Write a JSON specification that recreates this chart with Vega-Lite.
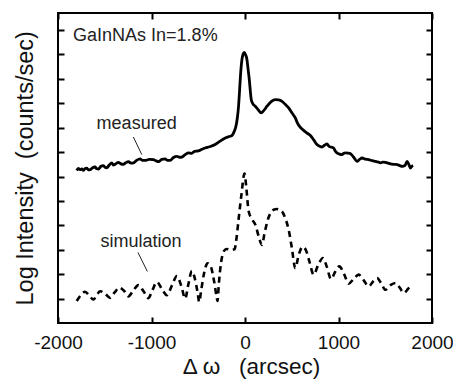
{
  "$schema": "https://vega.github.io/schema/vega-lite/v6.json",
  "width": 374,
  "height": 310,
  "autosize": {"type": "none"},
  "padding": {"left": 58, "top": 13, "right": 21, "bottom": 56},
  "background": "white",
  "config": {
    "view": {"stroke": "black", "strokeWidth": 2},
    "font": "Liberation Sans"
  },
  "datasets": {
    "measured": [
      {"w": -1800, "v": 6.25}, {"w": -1782, "v": 6.33}, {"w": -1764, "v": 6.28}, {"w": -1746, "v": 6.31},
      {"w": -1729, "v": 6.25}, {"w": -1711, "v": 6.33}, {"w": -1693, "v": 6.34}, {"w": -1675, "v": 6.27},
      {"w": -1657, "v": 6.28}, {"w": -1630, "v": 6.36}, {"w": -1604, "v": 6.39}, {"w": -1586, "v": 6.32},
      {"w": -1568, "v": 6.31}, {"w": -1540, "v": 6.42}, {"w": -1515, "v": 6.45}, {"w": -1497, "v": 6.38},
      {"w": -1479, "v": 6.36}, {"w": -1450, "v": 6.48}, {"w": -1425, "v": 6.56}, {"w": -1408, "v": 6.47},
      {"w": -1390, "v": 6.5}, {"w": -1372, "v": 6.55}, {"w": -1354, "v": 6.58}, {"w": -1328, "v": 6.52},
      {"w": -1301, "v": 6.5}, {"w": -1274, "v": 6.57}, {"w": -1247, "v": 6.61}, {"w": -1220, "v": 6.55},
      {"w": -1193, "v": 6.56}, {"w": -1160, "v": 6.66}, {"w": -1122, "v": 6.72}, {"w": -1095, "v": 6.66},
      {"w": -1068, "v": 6.66}, {"w": -1025, "v": 6.7}, {"w": -979, "v": 6.69}, {"w": -950, "v": 6.64},
      {"w": -925, "v": 6.61}, {"w": -890, "v": 6.7}, {"w": -854, "v": 6.72}, {"w": -827, "v": 6.66},
      {"w": -800, "v": 6.66}, {"w": -765, "v": 6.78}, {"w": -729, "v": 6.83}, {"w": -700, "v": 6.79},
      {"w": -675, "v": 6.8}, {"w": -640, "v": 6.9}, {"w": -604, "v": 6.97}, {"w": -570, "v": 6.95},
      {"w": -540, "v": 7.03}, {"w": -500, "v": 7.05}, {"w": -460, "v": 7.12}, {"w": -426, "v": 7.17},
      {"w": -380, "v": 7.22}, {"w": -319, "v": 7.31}, {"w": -270, "v": 7.44}, {"w": -211, "v": 7.58},
      {"w": -170, "v": 7.64}, {"w": -140, "v": 7.68}, {"w": -115, "v": 7.85}, {"w": -97, "v": 8.06},
      {"w": -82, "v": 8.4}, {"w": -69, "v": 8.88}, {"w": -60, "v": 9.4}, {"w": -51, "v": 9.97},
      {"w": -42, "v": 10.45}, {"w": -33, "v": 10.79}, {"w": -20, "v": 11.02}, {"w": -8, "v": 11.09},
      {"w": 5, "v": 11.0}, {"w": 21, "v": 10.79}, {"w": 33, "v": 10.4}, {"w": 46, "v": 9.97},
      {"w": 57, "v": 9.5}, {"w": 67, "v": 9.15}, {"w": 85, "v": 8.98}, {"w": 110, "v": 8.88},
      {"w": 140, "v": 8.74}, {"w": 174, "v": 8.61}, {"w": 200, "v": 8.7}, {"w": 235, "v": 8.88},
      {"w": 280, "v": 9.07}, {"w": 324, "v": 9.15}, {"w": 360, "v": 9.14}, {"w": 396, "v": 9.08},
      {"w": 430, "v": 8.96}, {"w": 467, "v": 8.81}, {"w": 500, "v": 8.62}, {"w": 538, "v": 8.4},
      {"w": 560, "v": 8.2}, {"w": 590, "v": 8.02}, {"w": 627, "v": 7.89}, {"w": 660, "v": 7.79},
      {"w": 699, "v": 7.68}, {"w": 735, "v": 7.5}, {"w": 770, "v": 7.31}, {"w": 800, "v": 7.24},
      {"w": 824, "v": 7.21}, {"w": 850, "v": 7.28}, {"w": 877, "v": 7.34}, {"w": 895, "v": 7.25},
      {"w": 913, "v": 7.21}, {"w": 930, "v": 7.2}, {"w": 948, "v": 7.17}, {"w": 965, "v": 7.05},
      {"w": 984, "v": 6.97}, {"w": 1010, "v": 6.92}, {"w": 1038, "v": 6.9}, {"w": 1056, "v": 6.95},
      {"w": 1074, "v": 6.97}, {"w": 1100, "v": 6.96}, {"w": 1127, "v": 6.94}, {"w": 1160, "v": 6.8},
      {"w": 1199, "v": 6.62}, {"w": 1225, "v": 6.7}, {"w": 1252, "v": 6.76}, {"w": 1290, "v": 6.71},
      {"w": 1323, "v": 6.69}, {"w": 1360, "v": 6.65}, {"w": 1395, "v": 6.62}, {"w": 1420, "v": 6.6},
      {"w": 1448, "v": 6.56}, {"w": 1475, "v": 6.59}, {"w": 1502, "v": 6.58}, {"w": 1530, "v": 6.55},
      {"w": 1556, "v": 6.52}, {"w": 1590, "v": 6.5}, {"w": 1627, "v": 6.49}, {"w": 1655, "v": 6.45},
      {"w": 1681, "v": 6.42}, {"w": 1710, "v": 6.45}, {"w": 1734, "v": 6.62}, {"w": 1752, "v": 6.5},
      {"w": 1770, "v": 6.35}, {"w": 1785, "v": 6.42}, {"w": 1798, "v": 6.45}
    ],
    "simulation": [
      {"w": -1800, "v": 0.9}, {"w": -1760, "v": 1.12}, {"w": -1711, "v": 1.28}, {"w": -1660, "v": 1.1},
      {"w": -1622, "v": 0.96}, {"w": -1580, "v": 1.18}, {"w": -1550, "v": 1.3}, {"w": -1500, "v": 1.22},
      {"w": -1443, "v": 1.03}, {"w": -1395, "v": 1.25}, {"w": -1343, "v": 1.45}, {"w": -1290, "v": 1.3},
      {"w": -1247, "v": 1.09}, {"w": -1195, "v": 1.33}, {"w": -1140, "v": 1.55}, {"w": -1085, "v": 1.3},
      {"w": -1033, "v": 1.02}, {"w": -990, "v": 1.35}, {"w": -943, "v": 1.68}, {"w": -890, "v": 1.4},
      {"w": -836, "v": 1.14}, {"w": -780, "v": 1.55}, {"w": -729, "v": 1.92}, {"w": -680, "v": 1.5},
      {"w": -640, "v": 1.0}, {"w": -605, "v": 1.6}, {"w": -568, "v": 2.13}, {"w": -535, "v": 1.8},
      {"w": -505, "v": 1.2}, {"w": -490, "v": 0.86}, {"w": -470, "v": 1.3}, {"w": -440, "v": 2.0},
      {"w": -400, "v": 2.45}, {"w": -365, "v": 2.3}, {"w": -330, "v": 1.7}, {"w": -305, "v": 1.1},
      {"w": -294, "v": 0.9}, {"w": -280, "v": 1.6}, {"w": -255, "v": 2.5}, {"w": -225, "v": 2.95},
      {"w": -193, "v": 3.03}, {"w": -150, "v": 3.0}, {"w": -112, "v": 3.02}, {"w": -90, "v": 3.5},
      {"w": -69, "v": 4.23}, {"w": -40, "v": 5.2}, {"w": -5, "v": 6.12}, {"w": 15, "v": 5.5},
      {"w": 38, "v": 4.6}, {"w": 75, "v": 4.25}, {"w": 110, "v": 4.03}, {"w": 150, "v": 3.5},
      {"w": 181, "v": 3.2}, {"w": 210, "v": 3.7}, {"w": 250, "v": 4.3}, {"w": 306, "v": 4.64},
      {"w": 342, "v": 4.67}, {"w": 395, "v": 4.57}, {"w": 430, "v": 4.3}, {"w": 467, "v": 3.82},
      {"w": 500, "v": 3.1}, {"w": 538, "v": 2.25}, {"w": 575, "v": 2.8}, {"w": 615, "v": 3.12},
      {"w": 650, "v": 3.0}, {"w": 690, "v": 2.5}, {"w": 734, "v": 1.98}, {"w": 785, "v": 2.4},
      {"w": 834, "v": 2.66}, {"w": 875, "v": 2.3}, {"w": 920, "v": 1.8}, {"w": 965, "v": 2.1},
      {"w": 1009, "v": 2.32}, {"w": 1060, "v": 2.0}, {"w": 1109, "v": 1.61}, {"w": 1160, "v": 1.8},
      {"w": 1216, "v": 1.98}, {"w": 1270, "v": 1.75}, {"w": 1323, "v": 1.5}, {"w": 1370, "v": 1.7},
      {"w": 1413, "v": 1.84}, {"w": 1460, "v": 1.6}, {"w": 1502, "v": 1.36}, {"w": 1555, "v": 1.55},
      {"w": 1609, "v": 1.64}, {"w": 1655, "v": 1.45}, {"w": 1698, "v": 1.23}, {"w": 1750, "v": 1.42},
      {"w": 1798, "v": 1.53}
    ],
    "title": [
      {"w": -1839, "v": 11.54, "t": "GaInNAs In=1.8%"}
    ],
    "curvelabels": [
      {"w": -1159, "v": 7.96, "t": "measured"},
      {"w": -1113, "v": 3.13, "t": "simulation"}
    ],
    "pointers": [
      {"w": -1194, "v": 7.62, "w2": -1104, "v2": 6.9},
      {"w": -1145, "v": 2.89, "w2": -1044, "v2": 2.11}
    ]
  },
  "layer": [
    {
      "data": {"name": "measured"},
      "mark": {"type": "line", "color": "black", "strokeWidth": 2.8, "interpolate": "monotone", "strokeJoin": "round"},
      "encoding": {
        "x": {"field": "w", "type": "quantitative",
          "scale": {"domain": [-2000, 2000], "nice": false, "zero": false},
          "axis": {"orient": "bottom", "values": [-2000, -1000, 0, 1000, 2000], "tickSize": -6, "tickWidth": 2, "tickColor": "black",
            "labelExpr": "datum.value < 0 ? '-' + abs(datum.value) : '' + datum.value",
            "domain": false, "grid": false, "labelFontSize": 19, "labelColor": "#111", "labelPadding": 16, "labelFlush": false,
            "title": "Δ ω\u00a0\u00a0\u00a0(arcsec)", "titleFontSize": 22.5, "titleFontWeight": "normal", "titleColor": "#111",
            "titleBaseline": "alphabetic", "titleY": 50, "titleX": 193}},
        "y": {"field": "v", "type": "quantitative",
          "scale": {"domain": [0, 12.7], "nice": false, "zero": false},
          "axis": {"orient": "left", "values": [1, 2, 3, 4, 5, 6, 7, 8, 9, 10, 11, 12], "tickSize": -6, "tickWidth": 2, "tickColor": "black",
            "domain": false, "grid": false, "labels": false,
            "title": "Log Intensity\u00a0\u00a0(counts/sec)", "titleFontSize": 23.5, "titleFontWeight": "normal", "titleColor": "#111",
            "titleBaseline": "alphabetic", "titleAngle": -90, "titleAlign": "left", "titleX": -26, "titleY": 292}}
      }
    },
    {
      "data": {"name": "simulation"},
      "mark": {"type": "line", "color": "black", "strokeWidth": 2.6, "interpolate": "monotone", "strokeDash": [6, 4.5]},
      "encoding": {
        "x": {"field": "w", "type": "quantitative",
          "scale": {"domain": [-2000, 2000], "nice": false, "zero": false},
          "axis": {"orient": "top", "values": [-2000, -1000, 0, 1000, 2000], "tickSize": -6, "tickWidth": 2, "tickColor": "black",
            "domain": false, "grid": false, "labels": false, "title": null}},
        "y": {"field": "v", "type": "quantitative",
          "scale": {"domain": [0, 12.7], "nice": false, "zero": false},
          "axis": {"orient": "right", "values": [1, 2, 3, 4, 5, 6, 7, 8, 9, 10, 11, 12], "tickSize": -6, "tickWidth": 2, "tickColor": "black",
            "domain": false, "grid": false, "labels": false, "title": null}}
      }
    },
    {
      "data": {"name": "pointers"},
      "mark": {"type": "rule", "color": "#222", "strokeWidth": 1},
      "encoding": {
        "x": {"field": "w", "type": "quantitative", "scale": {"domain": [-2000, 2000], "nice": false, "zero": false}, "axis": null},
        "y": {"field": "v", "type": "quantitative", "scale": {"domain": [0, 12.7], "nice": false, "zero": false}, "axis": null},
        "x2": {"field": "w2"},
        "y2": {"field": "v2"}
      }
    },
    {
      "data": {"name": "title"},
      "mark": {"type": "text", "fontSize": 18, "color": "#222", "baseline": "alphabetic", "align": "left"},
      "encoding": {
        "x": {"field": "w", "type": "quantitative", "scale": {"domain": [-2000, 2000], "nice": false, "zero": false}, "axis": null},
        "y": {"field": "v", "type": "quantitative", "scale": {"domain": [0, 12.7], "nice": false, "zero": false}, "axis": null},
        "text": {"field": "t"}
      }
    },
    {
      "data": {"name": "curvelabels"},
      "mark": {"type": "text", "fontSize": 18, "color": "#222", "baseline": "alphabetic", "align": "center"},
      "encoding": {
        "x": {"field": "w", "type": "quantitative", "scale": {"domain": [-2000, 2000], "nice": false, "zero": false}, "axis": null},
        "y": {"field": "v", "type": "quantitative", "scale": {"domain": [0, 12.7], "nice": false, "zero": false}, "axis": null},
        "text": {"field": "t"}
      }
    }
  ],
  "resolve": {"scale": {"x": "independent", "y": "independent"}, "axis": {"x": "independent", "y": "independent"}}
}
